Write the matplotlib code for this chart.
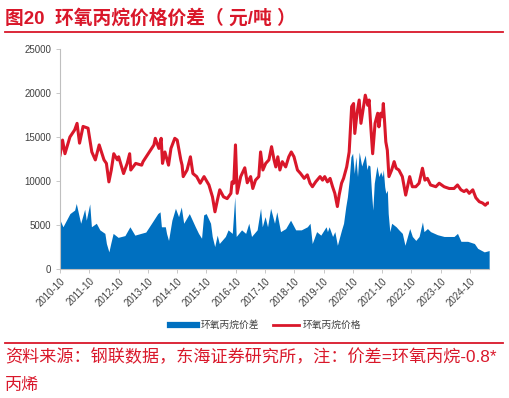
import matplotlib
matplotlib.use("Agg")
import matplotlib.pyplot as plt
from matplotlib.lines import Line2D
import pandas as pd

plt.rcParams['font.family'] = ['Liberation Sans', 'Noto Sans CJK SC', 'DejaVu Sans']

RED = '#D9172A'
BLUE = '#0070C0'
GREY = '#404040'

# 环氧丙烷价格 (元/吨)
price_dates = [
  '2010-10-01', '2010-11-01', '2010-12-01', '2011-02-01', '2011-04-01', '2011-05-01',
  '2011-06-01', '2011-07-15', '2011-09-15', '2011-11-01', '2011-12-15', '2012-02-01',
  '2012-04-01', '2012-05-01', '2012-06-01', '2012-07-01', '2012-08-01', '2012-09-15',
  '2012-10-01', '2012-12-01', '2013-01-15', '2013-02-15', '2013-03-01', '2013-05-01',
  '2013-07-15', '2013-08-01', '2013-11-01', '2013-12-15', '2014-01-01', '2014-02-15',
  '2014-03-15', '2014-04-01', '2014-05-01', '2014-06-15', '2014-07-15', '2014-09-01',
  '2014-10-01', '2014-11-15', '2014-12-01', '2014-12-15', '2015-02-01', '2015-03-15',
  '2015-04-15', '2015-06-01', '2015-07-15', '2015-09-01', '2015-11-01', '2015-12-15',
  '2016-01-15', '2016-02-15', '2016-03-15', '2016-05-01', '2016-06-15', '2016-08-01',
  '2016-08-15', '2016-09-06', '2016-09-27', '2016-10-18', '2016-12-01', '2017-01-21',
  '2017-02-21', '2017-04-04', '2017-05-01', '2017-06-04', '2017-07-15', '2017-08-06',
  '2017-09-04', '2017-10-09', '2017-11-18', '2017-12-21', '2018-01-21', '2018-02-12',
  '2018-03-09', '2018-04-04', '2018-05-04', '2018-06-15', '2018-07-24', '2018-08-24',
  '2018-09-27', '2018-11-09', '2018-12-18', '2019-02-01', '2019-03-12', '2019-04-15',
  '2019-05-15', '2019-06-24', '2019-08-18', '2019-09-18', '2019-10-15', '2019-11-18',
  '2019-12-21', '2020-01-21', '2020-02-18', '2020-03-21', '2020-04-12', '2020-05-12',
  '2020-06-06', '2020-07-15', '2020-08-15', '2020-09-15', '2020-10-09', '2020-10-24',
  '2020-11-21', '2020-12-18', '2021-01-09', '2021-02-01', '2021-03-04', '2021-04-04',
  '2021-04-21', '2021-05-12', '2021-06-04', '2021-07-04', '2021-08-06', '2021-08-21',
  '2021-09-12', '2021-10-04', '2021-10-15', '2021-11-01', '2021-11-15', '2021-12-04',
  '2021-12-24', '2022-01-27', '2022-02-27', '2022-03-24', '2022-04-27', '2022-06-09',
  '2022-07-21', '2022-09-09', '2022-10-12', '2022-11-24', '2023-01-04', '2023-02-15',
  '2023-03-18', '2023-04-18', '2023-05-27', '2023-08-01', '2023-09-12', '2023-11-12',
  '2024-01-15', '2024-03-15', '2024-04-27', '2024-06-09', '2024-07-18', '2024-08-18',
  '2024-09-21', '2024-11-04', '2024-12-12', '2025-01-24', '2025-03-06', '2025-04-09',
  '2025-05-06', '2025-05-27',
]
price_vals = [
  12950, 14650, 13100, 15000, 15800, 16550,
  14300, 16200, 16000, 13300, 12400, 14100,
  12400, 12000, 9900, 11250, 13100, 12400,
  12750, 10850, 12000, 13100, 11250, 12000,
  11800, 12200, 13500, 14100, 14850, 13700,
  14850, 12000, 13300, 11800, 13700, 14850,
  14650, 12400, 11800, 10500, 11250, 12750,
  10850, 10500, 9750, 10500, 9550, 8200,
  6500, 7850, 9000, 8200, 8000, 8600,
  9900, 9750, 14100, 8600, 10500, 11500,
  9800, 10500, 9150, 10100, 10500, 13300,
  11250, 12000, 12400, 13900, 12400, 11600,
  12750, 11250, 12200, 11600, 12750, 13300,
  12750, 11250, 10850, 10300, 10700, 9750,
  9350, 9900, 10500, 10100, 10500, 9900,
  10300, 9350, 8600, 7100, 8400, 9750,
  10300, 11600, 13300, 18450, 18800, 15400,
  17700, 19200, 16550, 17900, 19750, 18600,
  19200, 16150, 13100, 16550, 17700, 16150,
  17700, 17300, 18800, 16550, 14450, 13500,
  10500, 11250, 12200, 11450, 11250, 10500,
  8400, 10500, 9350, 9350, 9750, 11450,
  10100, 10300, 9550, 9350, 9750, 9350,
  9150, 9150, 9550, 9000, 8800, 9000,
  8600, 9000, 8100, 7650, 7500, 7250,
  7500, 7500,
]

# 环氧丙烷价差 (元/吨)
spread_dates = [
  '2010-10-01', '2010-11-06', '2011-02-01', '2011-04-01', '2011-04-21', '2011-06-15',
  '2011-08-04', '2011-08-24', '2011-10-06', '2011-10-27', '2011-12-27', '2012-02-09',
  '2012-04-12', '2012-05-01', '2012-06-01', '2012-06-24', '2012-07-24', '2012-09-24',
  '2012-12-18', '2013-02-18', '2013-04-21', '2013-07-06', '2013-09-04', '2013-11-15',
  '2014-02-01', '2014-03-01', '2014-03-18', '2014-05-06', '2014-05-21', '2014-06-15',
  '2014-07-27', '2014-09-09', '2014-10-18', '2014-11-21', '2014-12-21', '2015-03-01',
  '2015-05-15', '2015-06-24', '2015-08-01', '2015-08-27', '2015-09-27', '2015-11-21',
  '2015-12-12', '2016-01-12', '2016-02-12', '2016-03-09', '2016-05-24', '2016-06-27',
  '2016-08-18', '2016-09-18', '2016-10-06', '2016-12-12', '2017-02-01', '2017-03-12',
  '2017-04-15', '2017-06-24', '2017-08-06', '2017-08-27', '2017-10-01', '2017-11-01',
  '2017-12-09', '2018-01-27', '2018-02-24', '2018-04-12', '2018-06-15', '2018-08-15',
  '2018-10-18', '2018-12-27', '2019-03-12', '2019-04-15', '2019-05-12', '2019-07-06',
  '2019-08-27', '2019-11-01', '2019-11-18', '2019-12-09', '2020-01-21', '2020-02-18',
  '2020-03-21', '2020-05-12', '2020-06-06', '2020-07-04', '2020-07-24', '2020-08-15',
  '2020-09-06', '2020-09-27', '2020-10-18', '2020-11-06', '2020-11-27', '2020-12-18',
  '2021-01-18', '2021-02-12', '2021-03-04', '2021-03-24', '2021-04-09', '2021-05-01',
  '2021-05-21', '2021-06-06', '2021-06-24', '2021-07-27', '2021-08-21', '2021-09-12',
  '2021-10-04', '2021-10-15', '2021-11-01', '2021-11-15', '2021-12-04', '2021-12-15',
  '2022-01-04', '2022-01-27', '2022-03-24', '2022-04-27', '2022-06-09', '2022-07-12',
  '2022-08-12', '2022-09-09', '2022-10-12', '2022-11-24', '2023-01-04', '2023-02-15',
  '2023-03-06', '2023-04-18', '2023-05-27', '2023-08-21', '2023-11-12', '2024-03-15',
  '2024-04-27', '2024-06-09', '2024-09-01', '2024-11-24', '2025-01-04', '2025-03-27',
  '2025-05-27',
]
spread_vals = [
  5550, 4800, 6300, 6700, 7450, 5200,
  6800, 5550, 7400, 4800, 5200, 4450,
  4050, 2900, 1950, 2900, 4050, 3600,
  3800, 4800, 3850, 4050, 4200, 5200,
  6300, 6500, 4800, 4800, 4050, 3250,
  5550, 6900, 5950, 7050, 5200, 6300,
  4800, 4050, 3500, 6150, 6300, 5200,
  3700, 2550, 3850, 2900, 3700, 4450,
  4050, 8200, 3700, 4450, 4050, 5200,
  3700, 4450, 6900, 4800, 5950, 4800,
  6900, 5200, 6500, 4250, 4600, 5550,
  4450, 4450, 4800, 5200, 2900, 4250,
  3850, 4800, 4250, 4800, 3700, 4250,
  2700, 4450, 5200, 7100, 8200, 10100,
  12750, 13150, 10850, 12750, 10500, 13300,
  11700, 12400, 12950, 11300, 11850, 11700,
  8600, 6700, 9750, 11700, 10500, 11050,
  10500, 11300, 9350, 8600, 8950, 6300,
  4250, 5200, 4800, 4450, 4050, 2700,
  3700, 4600, 3700, 3250, 3700, 5350,
  4250, 4600, 4250, 3900, 3700, 3700,
  4050, 3150, 3150, 2900, 2350, 1950,
  2100,
]

tick_labels = ['2010-10', '2011-10', '2012-10', '2013-10', '2014-10', '2015-10', '2016-10',
               '2017-10', '2018-10', '2019-10', '2020-10', '2021-10', '2022-10', '2023-10',
               '2024-10']

pd_price = pd.to_datetime(price_dates)
pd_spread = pd.to_datetime(spread_dates)

fig = plt.figure(figsize=(5.09, 3.98), dpi=100)
ax = fig.add_axes([0.118, 0.324, 0.843, 0.553])

ax.fill_between(pd_spread, spread_vals, 0, color=BLUE, lw=0)
ax.plot(pd_price, price_vals, color=RED, lw=2.2)

ax.set_ylim(0, 25000)
ax.set_yticks(range(0, 25001, 5000))
ax.set_xlim(pd.Timestamp('2010-10-01'), pd.Timestamp('2025-05-27'))
ax.set_xticks(pd.to_datetime([t + '-01' for t in tick_labels]))
ax.set_xticklabels(tick_labels, rotation=45, ha='right', rotation_mode='anchor')

for s in ['top', 'right']:
  ax.spines[s].set_visible(False)
for s in ['left', 'bottom']:
  ax.spines[s].set_color('#BFBFBF')
  ax.spines[s].set_linewidth(0.8)
ax.tick_params(axis='both', labelsize=7, colors=GREY, length=3, width=0.6, color='#BFBFBF')
ax.tick_params(axis='x', pad=2)

handles = [Line2D([], [], color=BLUE, lw=4.5), Line2D([], [], color=RED, lw=2)]
fig.legend(handles, ['环氧丙烷价差', '环氧丙烷价格'], loc='center', bbox_to_anchor=(0.522, 0.183),
           ncol=2, frameon=False, fontsize=7, handlelength=2.7, columnspacing=1.4,
           handletextpad=0.4, labelcolor=GREY)

# header / footer
fig.text(0.010, 0.955, '图20  环氧丙烷价格价差（ 元/吨 ）', color=RED, fontsize=13.5,
         fontweight='bold', va='center', ha='left')
fig.add_artist(Line2D([0.010, 0.988], [0.920, 0.920], color=RED, lw=1.3))
fig.add_artist(Line2D([0.010, 0.988], [0.139, 0.139], color=RED, lw=1.3))
fig.text(0.010, 0.103, '资料来源：钢联数据，东海证券研究所，注：价差=环氧丙烷-0.8*', color=RED,
         fontsize=12.3, va='center', ha='left')
fig.text(0.010, 0.031, '丙烯', color=RED, fontsize=12.3, va='center', ha='left')

fig.savefig('out.png', dpi=100)
